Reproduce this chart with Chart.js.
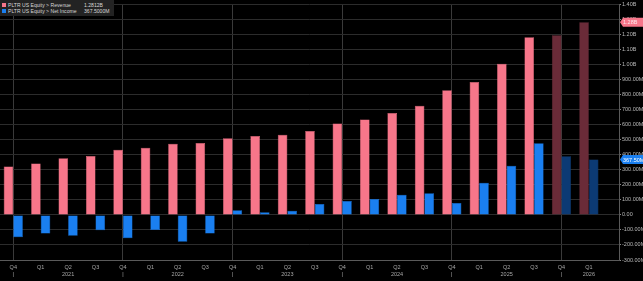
<!DOCTYPE html>
<html>
<head>
<meta charset="utf-8">
<script src="https://cdn.jsdelivr.net/npm/chart.js@4.4.1/dist/chart.umd.min.js"></script>
<style>
    html, body { margin: 0; padding: 0; background: #000; }
    #wrap { position: relative; width: 643px; height: 281px; }
    #legende {
        position: absolute; left: 0; top: 0; width: 114px; height: 16px;
        background: #232323; font-family: "Liberation Sans", sans-serif; font-size: 5.1px;
        color: #d8d8d8; line-height: 6px; padding-top: 2px; box-sizing: border-box;
    }
    .ligne { position: relative; height: 6px; white-space: nowrap; }
    .carre { position: absolute; left: 2px; top: 1px; width: 4px; height: 4px; }
    .nom { position: absolute; left: 8px; }
    .val { position: absolute; left: 84px; }
</style>
</head>
<body>
<div id="wrap">
    <canvas id="chart" width="643" height="281"></canvas>
    <div id="legende">
        <div class="ligne"><span class="carre" style="background:#f7768a"></span><span class="nom">PLTR US Equity &gt; Revenue</span><span class="val">1.2812B</span></div>
        <div class="ligne"><span class="carre" style="background:#1a7ff0"></span><span class="nom">PLTR US Equity &gt; Net Income</span><span class="val">367.5000M</span></div>
    </div>
</div>
<script>
// Trimestres (Q4 2020 -> Q1 2026)
const trimestres = ['Q4','Q1','Q2','Q3','Q4','Q1','Q2','Q3','Q4','Q1','Q2','Q3',
                    'Q4','Q1','Q2','Q3','Q4','Q1','Q2','Q3','Q4','Q1'];
const annees = ['|','','2021','','|','','2022','','|','','2023','',
                '|','','2024','','|','','2025','','|','2026'];

// Valeurs en millions USD
const revenus = [322, 341, 376, 392, 433, 446, 473, 478, 509, 525, 533, 558,
                 608, 634, 678, 726, 828, 884, 1004, 1181, 1194, 1281.2];
const resultatNet = [-148, -123, -139, -102, -156, -101, -179, -124, 31, 17, 28, 72,
                     93, 106, 134, 144, 79, 214, 327, 476, 390, 367.5];
// Les deux derniers trimestres sont des estimations
const nbEstimations = 2;

const yTicks = [-300, -200, -100, 0, 100, 200, 300, 400, 500, 600, 700,
                800, 900, 1000, 1100, 1200, 1300, 1400];

const nb = trimestres.length;
const estEstime = i => i >= nb - nbEstimations;

function formatMontant(v) {
    if (v === 0) return '0.00';
    if (Math.abs(v) >= 1000) return (v / 1000).toFixed(2) + 'B';
    return v.toFixed(2) + 'M';
}

// Etiquettes colorees sur l'axe de droite
const etiquettesPlugin = {
    id: 'etiquettes',
    afterDraw(chart) {
        const ctx = chart.ctx;
        const y = chart.scales.y;
        const x0 = chart.chartArea.right + 1;
        const tags = [
            { v: revenus[nb - 1], fond: '#f7768a', texte: '#ffe8ec', label: formatMontant(revenus[nb - 1]) },
            { v: resultatNet[nb - 1], fond: '#1a7ff0', texte: '#ffffff', label: formatMontant(resultatNet[nb - 1]) }
        ];
        tags.forEach(t => {
            const py = y.getPixelForValue(t.v);
            ctx.save();
            ctx.fillStyle = t.fond;
            ctx.beginPath();
            ctx.moveTo(x0, py);
            ctx.lineTo(x0 + 3, py - 4.5);
            ctx.lineTo(643, py - 4.5);
            ctx.lineTo(643, py + 4.5);
            ctx.lineTo(x0 + 3, py + 4.5);
            ctx.closePath();
            ctx.fill();
            ctx.fillStyle = t.texte;
            ctx.font = '5.5px "Liberation Sans"';
            ctx.textBaseline = 'middle';
            ctx.fillText(t.label, x0 + 3, py + 0.5);
            ctx.restore();
        });
    }
};

const ctxChart = document.getElementById('chart');
new Chart(ctxChart, {
    type: 'bar',
    data: {
        datasets: [{
            label: 'PLTR US Equity > Revenue',
            data: revenus.map((v, i) => ({ x: i, y: v })),
            backgroundColor: revenus.map((v, i) => estEstime(i) ? '#6a2b38' : '#f7768a'),
            borderColor: revenus.map((v, i) => estEstime(i) ? '#7c3645' : '#f7768a'),
            borderWidth: 0.5
        }, {
            label: 'PLTR US Equity > Net Income',
            data: resultatNet.map((v, i) => ({ x: i, y: v })),
            backgroundColor: resultatNet.map((v, i) => estEstime(i) ? '#0c3a74' : '#1a7ff0'),
            borderColor: resultatNet.map((v, i) => estEstime(i) ? '#144886' : '#1a7ff0'),
            borderWidth: 0.5
        }]
    },
    options: {
        responsive: false,
        animation: false,
        devicePixelRatio: 1,
        categoryPercentage: 0.7,
        barPercentage: 1.0,
        layout: { padding: { top: 3, left: 0, right: 0, bottom: 0 } },
        plugins: {
            legend: { display: false },
            tooltip: { enabled: false }
        },
        scales: {
            x: {
                type: 'linear',
                offset: false,
                min: -0.485,
                max: 22.1,
                afterBuildTicks: scale => {
                    scale.ticks = trimestres.map((_, i) => ({ value: i }));
                },
                afterFit: scale => { scale.height = 21; },
                grid: {
                    offset: false,
                    color: c => (c.tick && c.tick.value % 4 === 0) ? '#3a3a3a' : 'transparent',
                    lineWidth: 1,
                    drawTicks: false
                },
                border: { color: '#5a5a5a' },
                ticks: {
                    autoSkip: false,
                    maxRotation: 0,
                    padding: 4,
                    color: '#a8a8a8',
                    font: { family: 'Liberation Sans', size: 5.5, lineHeight: 1.25 },
                    callback: (v, i) => [trimestres[i], annees[i]]
                }
            },
            y: {
                position: 'right',
                min: -300,
                max: 1400,
                afterBuildTicks: scale => {
                    scale.ticks = yTicks.map(v => ({ value: v }));
                },
                afterFit: scale => { scale.width = 24; },
                grid: {
                    color: '#2c2c2c',
                    lineWidth: 1,
                    tickLength: 2,
                    tickColor: '#8a8a8a'
                },
                border: { color: '#5a5a5a' },
                ticks: {
                    padding: 1,
                    color: '#b8b8b8',
                    font: { family: 'Liberation Sans', size: 5.5 },
                    callback: v => formatMontant(v)
                }
            }
        }
    },
    plugins: [etiquettesPlugin]
});
</script>
</body>
</html>
